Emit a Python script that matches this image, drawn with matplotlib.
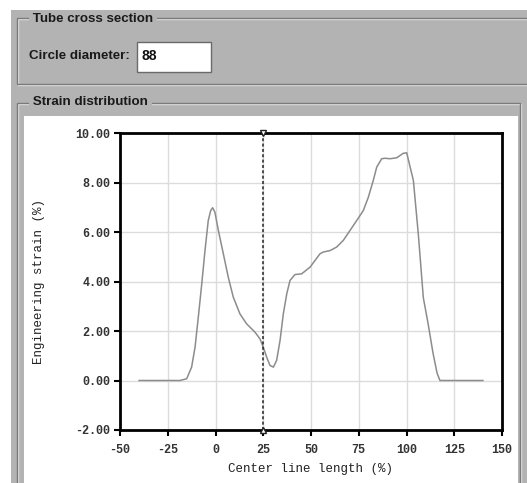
import matplotlib
matplotlib.use("Agg")
import matplotlib.pyplot as plt
from matplotlib.patches import Rectangle

# Strain distribution along the tube centre line
length_pct = [-40, -30, -20, -18.6, -15.1, -12.5, -10.7, -9.0, -7.2, -5.5, -3.8,
              -2.5, -1.5, -0.3, 1.5, 4.1, 6.7, 9.3, 12.8, 16.3, 20.7, 23.3, 25.0,
              26.8, 28.5, 30.3, 32.0, 33.8, 35.5, 37.3, 39.0, 41.6, 45.1, 49.5,
              52.1, 54.7, 56.4, 60.0, 63.4, 66.9, 70.4, 73.9, 77.4, 80.0, 82.6,
              84.4, 87.0, 88.7, 91.4, 94.9, 98.3, 100.1, 103.6, 106.2, 108.8,
              111.3, 113.9, 116.0, 117.5, 120, 130, 140]
strain_pct = [0, 0, 0, 0, 0.07, 0.54, 1.35, 2.56, 3.9, 5.25, 6.46,
              6.87, 6.98, 6.8, 6.06, 5.12, 4.17, 3.37, 2.69, 2.29, 1.95, 1.68, 1.35,
              0.94, 0.61, 0.54, 0.81, 1.62, 2.69, 3.5, 4.04, 4.28, 4.31, 4.58,
              4.85, 5.12, 5.19, 5.25, 5.39, 5.66, 6.06, 6.46, 6.87, 7.4, 8.08,
              8.62, 8.96, 8.98, 8.96, 9.0, 9.18, 9.2, 8.08, 5.9, 3.35,
              2.3, 1.1, 0.3, 0, 0, 0, 0]
cursor_x = 25
x_ticks = [-50, -25, 0, 25, 50, 75, 100, 125, 150]
y_ticks = [-2, 0, 2, 4, 6, 8, 10]
circle_diameter = "88"

W, H = 527, 483
GRAY = "#b3b3b3"


def fx(x):
    return x / W


def fy(y):
    return 1 - y / H


fig = plt.figure(figsize=(W / 100, H / 100), dpi=100, facecolor="white")


def rect(x0, y0, x1, y1, **kw):
    fig.patches.append(Rectangle((fx(x0), fy(y1)), fx(x1) - fx(x0), fy(y0) - fy(y1),
                                 transform=fig.transFigure, figure=fig, **kw))


def etched(x0, y0, x1, y1):
    rect(x0 + 1, y0 + 1, x1 + 1, y1 + 1, fill=False, edgecolor="#e6e6e6", lw=1)
    rect(x0, y0, x1, y1, fill=False, edgecolor="#7a7a7a", lw=1)


# window background
rect(11, 10, 540, 500, facecolor=GRAY, edgecolor="none")
# group boxes
etched(17, 18, 540, 84)
etched(17, 103, 520, 500)
# white chart panel
rect(24, 116, 518, 500, facecolor="white", edgecolor="none")
# text field
rect(137, 42, 211, 72, facecolor="white", edgecolor="#6a6a6a", lw=1)

gui_font = dict(family="Liberation Sans", weight="bold", fontsize=9.6, color="#1a1a1a")
fig.text(fx(29), fy(19), " Tube cross section ", va="center", ha="left",
         bbox=dict(facecolor=GRAY, edgecolor="none", pad=0), **gui_font)
fig.text(fx(29), fy(102), " Strain distribution ", va="center", ha="left",
         bbox=dict(facecolor=GRAY, edgecolor="none", pad=0), **gui_font)
fig.text(fx(29), fy(56), "Circle diameter:", va="center", ha="left", **gui_font)
fig.text(fx(141), fy(56), circle_diameter, va="center", ha="left",
         family="Liberation Sans", weight="bold", fontsize=10, color="#111111")

# chart
ax = fig.add_axes([fx(120), fy(430), fx(502) - fx(120), fy(133) - fy(430)])
ax.set_zorder(10)
ax.plot(length_pct, strain_pct, color="#8c8c8c", lw=1.1, zorder=3)
ax.axvline(cursor_x, color="#222222", lw=1.1, ls=(0, (2, 1.5)), zorder=4)
ax.plot([cursor_x], [10], marker="v", ms=5, mfc="white", mec="#222222",
        mew=1, clip_on=False, zorder=5)
ax.plot([cursor_x], [-2], marker="^", ms=5, mfc="white", mec="#222222",
        mew=1, clip_on=False, zorder=5)

ax.set_xlim(-50, 150)
ax.set_ylim(-2, 10)
ax.set_xticks(x_ticks)
ax.set_yticks(y_ticks)
ax.set_xticklabels([str(v) for v in x_ticks])
ax.set_yticklabels(["%.2f" % v for v in y_ticks])
ax.grid(True, color="#dcdcdc", lw=1)
ax.set_axisbelow(True)
for s in ax.spines.values():
    s.set_linewidth(2)
    s.set_color("black")
ax.tick_params(direction="out", length=4, width=1.5, color="black",
               labelsize=8.5, labelcolor="#333333", pad=3)
ax.tick_params(axis="x", pad=6)
for lab in ax.get_xticklabels() + ax.get_yticklabels():
    lab.set_family("Liberation Mono")
    lab.set_weight("bold")
ax.set_xlabel("Center line length (%)", family="Liberation Mono", fontsize=9,
              color="#222222", labelpad=5)
ax.set_ylabel("Engineering strain (%)", family="Liberation Mono", fontsize=9,
              color="#222222", labelpad=22)

fig.savefig("out.png", dpi=100)
